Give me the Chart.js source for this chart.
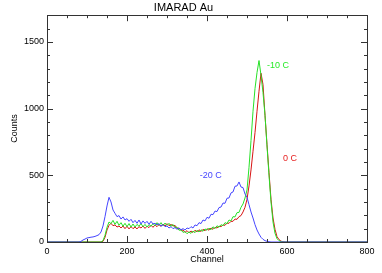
<!DOCTYPE html>
<html>
<head>
<meta charset="utf-8">
<script src="https://cdn.jsdelivr.net/npm/chart.js@4"></script>
<style>
  html, body { margin: 0; padding: 0; background: #fff; }
  #wrap { width: 382px; height: 273px; }
</style>
</head>
<body>
<div id="wrap"><canvas id="myChart" width="382" height="273"></canvas></div>
<script>
// channels: 0, then 80..600 every 5, then 800
const channels = [0,
  80,85,90,95,100,105,110,115,120,125,130,135,140,145,150,155,160,165,170,175,
  180,185,190,195,200,205,210,215,220,225,230,235,240,245,250,255,260,265,270,275,
  280,285,290,295,300,305,310,315,320,325,330,335,340,345,350,355,360,365,370,375,
  380,385,390,395,400,405,410,415,420,425,430,435,440,445,450,455,460,465,470,475,
  480,485,490,495,500,505,510,515,520,525,530,535,540,545,550,555,560,565,570,575,
  580,585,590,595,600,
  800];

const countsMinus20 = [0,
  0,5,15,22,30,33,36,38,42,48,55,75,120,190,270,335,300,240,215,190,
  198,172,188,165,175,155,170,145,162,140,165,135,158,140,155,132,155,135,140,128,
  138,118,130,115,120,105,115,100,108,95,105,92,100,90,105,100,115,105,128,122,
  145,138,165,158,185,178,208,205,232,228,258,262,292,290,328,330,368,375,418,420,
  450,412,408,360,335,280,225,180,130,90,60,35,20,10,5,2,0,0,0,0,
  0,0,0,0,0,
  0];

const countsMinus10 = [0,
  0,0,0,0,0,0,0,0,0,0,0,0,10,50,110,150,138,162,132,155,
  125,145,118,140,115,138,112,135,112,132,118,138,115,132,112,130,118,138,122,145,
  125,145,122,142,125,140,118,132,108,112,88,92,72,78,62,75,65,82,70,88,
  75,92,80,98,88,104,92,114,100,122,110,130,122,145,138,165,158,190,188,220,
  222,260,285,330,390,560,760,980,1150,1270,1360,1250,1120,950,720,500,300,150,65,25,
  10,3,0,0,0,
  0];

const counts0 = [0,
  0,0,0,0,0,0,0,0,0,0,0,0,5,35,90,125,140,122,128,112,
  120,105,120,100,118,98,115,100,112,98,115,105,120,102,118,108,125,110,128,115,
  130,118,135,120,138,122,132,120,125,100,105,85,90,72,85,70,82,72,88,76,
  92,78,95,84,100,88,105,95,110,105,118,115,128,125,142,140,155,155,172,170,
  190,198,225,260,320,420,540,680,820,980,1130,1265,1180,950,730,520,320,180,95,40,
  18,6,2,0,0,
  0];

const xTicks = [0, 200, 400, 600, 800];
const yTicks = [0, 500, 1000, 1500];

const noteText = ['-10 C', '0 C', '-20 C'];
const noteChannel = [550, 590, 382];
const noteCount = [1322, 625, 500];
const noteColor = ['rgb(40,235,40)', 'rgb(230,30,30)', 'rgb(70,70,255)'];

const pts = (ys) => channels.map((c, i) => ({ x: c, y: ys[i] }));

const frameTicks = {
  id: 'frameTicks',
  afterDatasetsDraw(chart) {
    const { ctx, chartArea: a, scales: { x, y } } = chart;
    ctx.save();
    ctx.strokeStyle = '#333';
    ctx.lineWidth = 1;
    ctx.beginPath();
    for (let v = 0; v <= 800; v += 50) {
      const px = Math.round(x.getPixelForValue(v)) + 0.5;
      const len = v % 200 === 0 ? 6 : 3;
      ctx.moveTo(px, a.bottom); ctx.lineTo(px, a.bottom - len);
      ctx.moveTo(px, a.top); ctx.lineTo(px, a.top + len);
    }
    for (let v = 0; v <= 1700; v += 100) {
      const py = Math.round(y.getPixelForValue(v)) + 0.5;
      const len = v % 500 === 0 ? 6 : 3;
      ctx.moveTo(a.left, py); ctx.lineTo(a.left + len, py);
      ctx.moveTo(a.right, py); ctx.lineTo(a.right - len, py);
    }
    ctx.stroke();
    ctx.strokeRect(Math.round(a.left) + 0.5, Math.round(a.top) + 0.5,
      Math.round(a.right - a.left), Math.round(a.bottom - a.top));

    ctx.font = '9px "Liberation Sans", Arial, sans-serif';
    ctx.textAlign = 'left';
    ctx.textBaseline = 'middle';
    noteText.forEach((t, i) => {
      ctx.fillStyle = noteColor[i];
      ctx.fillText(t, x.getPixelForValue(noteChannel[i]), y.getPixelForValue(noteCount[i]));
    });
    ctx.restore();
  }
};

const font = { family: '"Liberation Sans", Arial, sans-serif', size: 9 };

new Chart(document.getElementById('myChart'), {
  type: 'line',
  data: {
    datasets: [
      { label: '-20 C', data: pts(countsMinus20), borderColor: 'rgb(70,70,255)', order: 0 },
      { label: '-10 C', data: pts(countsMinus10), borderColor: 'rgb(40,225,40)', order: 1 },
      { label: '0 C', data: pts(counts0), borderColor: 'rgb(215,20,20)', order: 2 }
    ]
  },
  options: {
    responsive: false,
    animation: false,
    devicePixelRatio: 1,
    layout: { padding: { left: 0, right: 15, top: 0, bottom: 0 } },
    elements: {
      point: { radius: 0 },
      line: { borderWidth: 1, tension: 0 }
    },
    plugins: {
      legend: { display: false },
      tooltip: { enabled: false },
      title: {
        display: true,
        text: 'IMARAD Au',
        color: '#000',
        font: { family: font.family, size: 11, weight: 'normal' },
        padding: { top: 1, bottom: 1 }
      }
    },
    scales: {
      x: {
        type: 'linear',
        min: 0, max: 800,
        afterBuildTicks: (s) => { s.ticks = xTicks.map(v => ({ value: v })); },
        afterFit: (s) => { s.height = 31; },
        grid: { display: false, drawTicks: false },
        border: { display: false },
        ticks: { color: '#000', font, padding: 4, maxRotation: 0, autoSkip: false,
          callback: (v) => String(v) },
        title: { display: true, text: 'Channel', color: '#000', font, padding: { top: 0, bottom: 8 } }
      },
      y: {
        type: 'linear',
        min: 0, max: 1700,
        afterBuildTicks: (s) => { s.ticks = yTicks.map(v => ({ value: v })); },
        afterFit: (s) => { s.width = 47; },
        grid: { display: false, drawTicks: false },
        border: { display: false },
        ticks: { color: '#000', font, padding: 3, autoSkip: false,
          callback: (v) => String(v) },
        title: { display: true, text: 'Counts', color: '#000', font, padding: { top: 9, bottom: 0 } }
      }
    }
  },
  plugins: [frameTicks]
});
</script>
</body>
</html>
